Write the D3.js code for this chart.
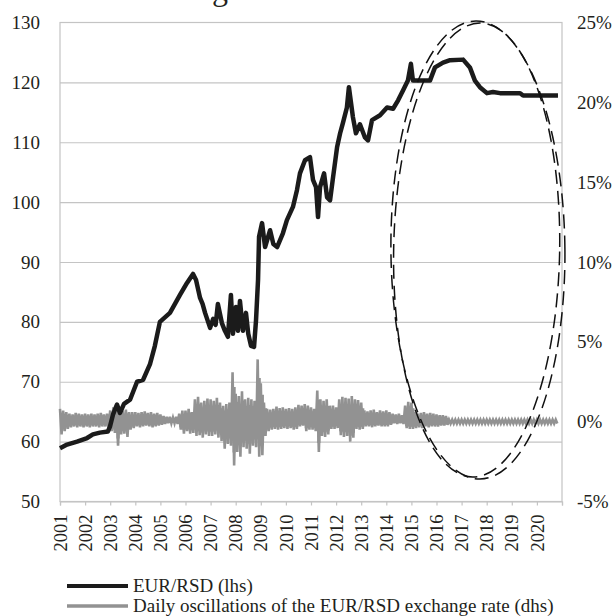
<!DOCTYPE html>
<html>
<head>
<meta charset="utf-8">
<script src="https://cdn.jsdelivr.net/npm/d3@7"></script>
<style>
    body { margin: 0; background: #fff; }
    text { font-family: "Liberation Serif", "Times New Roman", serif; fill: #231f20; }
</style>
</head>
<body>
<div id="chart"></div>
<script>
// tick labels
const yearTicks = [2001, 2002, 2003, 2004, 2005, 2006, 2007, 2008, 2009, 2010,
    2011, 2012, 2013, 2014, 2015, 2016, 2017, 2018, 2019, 2020, 2021];
const leftTicks = [50, 60, 70, 80, 90, 100, 110, 120, 130];
const rightTicks = [-5, 0, 5, 10, 15, 20, 25];

// EUR/RSD level (lhs)
const rateDates = [2001.0, 2001.28, 2001.68, 2002.08, 2002.31, 2002.59, 2002.91, 2002.99, 2003.11, 2003.27,
    2003.39, 2003.55, 2003.79, 2004.07, 2004.31, 2004.59, 2004.78, 2004.98, 2005.38, 2005.78,
    2006.06, 2006.3, 2006.42, 2006.5, 2006.58, 2006.68, 2006.78, 2006.98, 2007.1, 2007.2,
    2007.29, 2007.45, 2007.57, 2007.69, 2007.81, 2007.89, 2008.01, 2008.09, 2008.17, 2008.29,
    2008.41, 2008.5, 2008.61, 2008.73, 2008.81, 2008.89, 2008.93, 2009.05, 2009.17, 2009.37,
    2009.5, 2009.65, 2009.88, 2010.04, 2010.28, 2010.44, 2010.56, 2010.76, 2010.96, 2011.08,
    2011.2, 2011.28, 2011.36, 2011.52, 2011.64, 2011.76, 2011.88, 2012.04, 2012.16, 2012.27,
    2012.43, 2012.51, 2012.67, 2012.79, 2012.95, 2013.15, 2013.27, 2013.43, 2013.75, 2014.03,
    2014.27, 2014.47, 2014.67, 2014.86, 2014.98, 2015.06, 2015.34, 2015.74, 2015.94, 2016.26,
    2016.54, 2017.06, 2017.33, 2017.53, 2017.73, 2018.01, 2018.25, 2018.53, 2019.33, 2019.45,
    2020.84];
const rateValues = [58.9, 59.5, 60.0, 60.6, 61.2, 61.5, 61.7, 62.5, 64.5, 66.2,
    64.8, 66.3, 67.0, 70.0, 70.3, 73.0, 76.0, 80.0, 81.5, 84.5,
    86.5, 88.0, 87.0, 85.5, 84.0, 83.0, 81.5, 79.0, 80.5, 79.5,
    83.0, 79.8, 78.5, 77.5, 84.5, 78.0, 82.5, 78.5, 83.5, 78.5,
    81.5, 78.0, 76.0, 75.8, 80.3, 87.0, 94.2, 96.5, 92.5, 95.3,
    93.0, 92.5, 94.8, 97.0, 99.2, 102.0, 104.8, 107.0, 107.5, 103.7,
    102.5, 97.5, 102.5, 104.8, 100.8, 100.3, 104.2, 109.2, 111.5, 113.2,
    115.8, 119.2, 114.2, 111.5, 113.0, 110.8, 110.3, 113.7, 114.5, 115.8,
    115.6, 117.0, 118.7, 120.3, 123.1, 120.3, 120.3, 120.3, 122.5, 123.3,
    123.7, 123.8, 122.5, 120.3, 119.2, 118.2, 118.4, 118.2, 118.2, 117.8,
    117.8];

// daily oscillations (rhs, %): upper and lower envelope for every eighth of a year from 2001
const oscHigh = [
    0.8, 0.7, 0.6, 0.5, 0.45, 0.55, 0.5, 0.45,
    0.5, 0.45, 0.5, 0.45, 0.5, 0.55, 0.45, 0.5,
    0.7, 0.9, 0.95, 0.8, 0.7, 0.75, 0.6, 0.6,
    0.6, 0.55, 0.6, 0.65, 0.55, 0.6, 0.5, 0.55,
    0.45, 0.35, 0.3, 0.3, 0.25, 0.3, 0.5, 0.7,
    0.7, 0.8, 0.6, 1.4, 1.55, 1.2, 1.3, 1.45,
    1.4, 1.3, 1.5, 1.2, 1.0, 1.1, 1.2, 3.1,
    1.75, 1.6, 1.9, 1.4, 1.5, 1.4, 1.3, 3.9,
    2.4, 1.2, 0.8, 0.75, 0.8, 0.95, 0.85, 0.9,
    0.8, 0.85, 0.8, 0.9, 1.05, 1.0, 1.1, 1.0,
    0.9, 0.8, 1.95, 1.4, 1.3, 1.4, 1.0, 1.0,
    0.9, 1.4, 1.55, 1.5, 1.45, 1.6, 1.4, 1.35,
    1.2, 0.7, 0.65, 0.7, 0.75, 0.6, 0.7, 0.65,
    0.7, 0.6, 0.5, 0.45, 0.5, 0.4, 1.0, 1.25,
    1.2, 0.6, 0.5, 0.55, 0.6, 0.5, 0.55, 0.5,
    0.45, 0.4, 0.4, 0.35, 0.12, 0.12, 0.12, 0.12,
    0.12, 0.12, 0.12, 0.12, 0.12, 0.12, 0.12, 0.12,
    0.12, 0.12, 0.12, 0.12, 0.12, 0.12, 0.12, 0.12,
    0.12, 0.12, 0.12, 0.12, 0.12, 0.12, 0.12, 0.12,
    0.12, 0.12, 0.12, 0.12, 0.12, 0.12, 0.12];
const oscLow = [
    -0.8, -0.6, -0.45, -0.35, -0.3, -0.35, -0.3, -0.35,
    -0.3, -0.35, -0.3, -0.3, -0.35, -0.3, -0.3, -0.4,
    -0.6, -0.7, -1.5, -0.8, -0.75, -0.95, -0.5, -0.4,
    -0.3, -0.35, -0.3, -0.25, -0.3, -0.35, -0.3, -0.25,
    -0.2, -0.15, -0.1, -0.1, -0.1, -0.15, -0.5, -0.75,
    -0.6, -0.75, -0.7, -0.9, -0.85, -1.0, -0.8, -0.9,
    -0.9, -0.8, -1.0, -1.2, -1.7, -1.4, -1.5, -2.75,
    -1.9, -2.2, -1.6, -1.7, -2.0, -1.5, -1.6, -2.2,
    -2.1, -0.9, -0.6, -0.5, -0.45, -0.5, -0.45, -0.4,
    -0.45, -0.4, -0.5, -0.45, -0.3, -0.25, -0.6, -0.5,
    -0.5, -0.6, -1.9, -0.9, -0.95, -0.8, -0.45, -0.45,
    -0.4, -0.85, -0.95, -0.9, -1.25, -1.0, -0.45, -0.5,
    -0.45, -0.3, -0.3, -0.35, -0.3, -0.25, -0.3, -0.3,
    -0.3, -0.2, -0.1, -0.15, -0.1, -0.15, -0.4, -0.45,
    -0.45, -0.4, -0.35, -0.4, -0.3, -0.35, -0.3, -0.3,
    -0.3, -0.25, -0.25, -0.2, -0.12, -0.12, -0.12, -0.12,
    -0.12, -0.12, -0.12, -0.12, -0.12, -0.12, -0.12, -0.12,
    -0.12, -0.12, -0.12, -0.12, -0.12, -0.12, -0.12, -0.12,
    -0.12, -0.12, -0.12, -0.12, -0.12, -0.12, -0.12, -0.12,
    -0.12, -0.12, -0.12, -0.12, -0.12, -0.12, -0.12];

const legendLabels = ["EUR/RSD (lhs)", "Daily oscillations of the EUR/RSD exchange rate (dhs)"];

// layout
const width = 613, height = 616;
const margin = {top: 22.5, right: 51, bottom: 114.5, left: 60};
const innerW = width - margin.left - margin.right;
const innerH = height - margin.top - margin.bottom;
const BLACK = "#1b1b1b", GREY = "#929292", RULE = "#c4c4c4";

const svg = d3.select("#chart").append("svg")
    .attr("width", width)
    .attr("height", height);

// clipped title fragment at the very top
svg.append("text")
    .attr("x", 212)
    .attr("y", 0)
    .style("font-size", "32px")
    .text("g");

const g = svg.append("g")
    .attr("transform", "translate(" + margin.left + "," + margin.top + ")");

const x = d3.scaleLinear().domain([2001, 2021]).range([0, innerW]);
const yL = d3.scaleLinear().domain([50, 130]).range([innerH, 0]);
const yR = d3.scaleLinear().domain([-5, 25]).range([innerH, 0]);

// grid
g.append("g")
    .call(d3.axisLeft(yL).tickValues(leftTicks.slice(1, -1)).tickSize(-innerW).tickFormat(""))
    .call(a => a.select(".domain").remove())
    .selectAll("line")
    .attr("stroke", RULE)
    .attr("stroke-width", 1.2);

g.append("rect")
    .attr("width", innerW)
    .attr("height", innerH)
    .attr("fill", "none")
    .attr("stroke", RULE)
    .attr("stroke-width", 1.2);

// left axis labels
g.append("g")
    .call(d3.axisLeft(yL).tickValues(leftTicks).tickSize(0).tickPadding(20))
    .call(a => a.select(".domain").remove())
    .selectAll("text")
    .style("font-size", "19px");

// right axis labels
g.append("g")
    .attr("transform", "translate(" + innerW + ",0)")
    .call(d3.axisRight(yR).tickValues(rightTicks).tickSize(0).tickPadding(15)
        .tickFormat(d => d + "%"))
    .call(a => a.select(".domain").remove())
    .selectAll("text")
    .style("font-size", "19px");

// bottom axis
const xAxis = g.append("g")
    .attr("transform", "translate(0," + innerH + ")")
    .call(d3.axisBottom(x).tickValues(yearTicks).tickSize(4)
        .tickFormat(d => d === 2021 ? "" : d));
xAxis.select(".domain").attr("stroke", RULE).attr("stroke-width", 1.2);
xAxis.selectAll(".tick line").attr("stroke", RULE).attr("stroke-width", 1.2);
xAxis.selectAll(".tick text")
    .style("font-size", "18.5px")
    .attr("transform", "rotate(-90)")
    .attr("text-anchor", "end")
    .attr("x", -13)
    .attr("y", 0)
    .attr("dy", "0.33em");

// oscillations: solid envelope band plus a zigzag for the spiky edge
const oscSpans = oscHigh.map((h, i) => ({t: 2001 + i / 8, hi: h, lo: oscLow[i]}));

g.append("path")
    .datum(oscSpans)
    .attr("fill", GREY)
    .attr("d", d3.area()
        .curve(d3.curveStepAfter)
        .x(d => x(d.t))
        .y0(d => yR(d.lo * 0.7))
        .y1(d => yR(d.hi * 0.7)));

let oscPoints = [];
oscSpans.forEach(function(d){
    oscPoints.push([d.t, d.hi]);
    oscPoints.push([d.t + 1 / 16, d.lo]);
});

g.append("path")
    .datum(oscPoints)
    .attr("fill", "none")
    .attr("stroke", GREY)
    .attr("stroke-width", 2.6)
    .attr("d", d3.line()
        .x(d => x(d[0]))
        .y(d => yR(d[1])));

// EUR/RSD
g.append("path")
    .datum(rateDates.map((d, i) => [d, rateValues[i]]))
    .attr("fill", "none")
    .attr("stroke", BLACK)
    .attr("stroke-width", 4.5)
    .attr("stroke-linejoin", "round")
    .attr("d", d3.line()
        .x(d => x(d[0]))
        .y(d => yL(d[1])));

// dashed double ellipse around the recent period
const ell = g.append("g")
    .attr("fill", "none")
    .attr("stroke", "#111")
    .attr("stroke-width", 1.5)
    .attr("stroke-dasharray", "14,7");

ell.append("ellipse")
    .attr("cx", x(2017.6))
    .attr("cy", yL(92))
    .attr("rx", 83)
    .attr("ry", 227)
    .attr("transform", "rotate(1," + x(2017.6) + "," + yL(92) + ")");

ell.append("ellipse")
    .attr("cx", x(2017.65))
    .attr("cy", yL(92))
    .attr("rx", 87)
    .attr("ry", 229)
    .attr("transform", "rotate(-0.5," + x(2017.65) + "," + yL(92) + ")");

// legend
const legend = svg.append("g")
    .attr("transform", "translate(67,586)");

legend.selectAll("line")
    .data(legendLabels)
    .enter()
    .append("line")
    .attr("x1", 0)
    .attr("x2", 61)
    .attr("y1", (d, i) => i * 20)
    .attr("y2", (d, i) => i * 20)
    .attr("stroke", (d, i) => i === 0 ? BLACK : GREY)
    .attr("stroke-width", (d, i) => i === 0 ? 4 : 3.5);

legend.selectAll("text")
    .data(legendLabels)
    .enter()
    .append("text")
    .attr("x", 66)
    .attr("y", (d, i) => i * 20)
    .attr("dy", "0.33em")
    .style("font-size", "19px")
    .text(d => d);
</script>
</body>
</html>
